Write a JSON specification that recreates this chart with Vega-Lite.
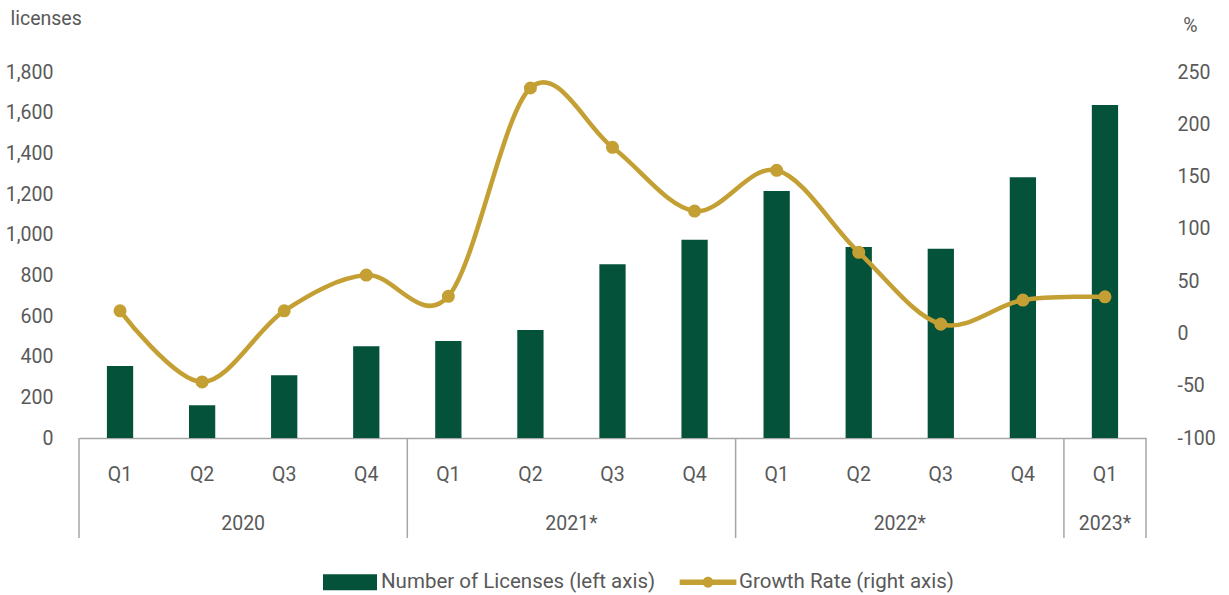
{
  "$schema": "https://vega.github.io/schema/vega-lite/v6.json",
  "width": 1067,
  "height": 366,
  "autosize": {"type": "none"},
  "padding": {"left": 79, "top": 72, "right": 83, "bottom": 157},
  "background": "white",
  "config": {
    "view": {"stroke": null},
    "font": "Roboto",
    "text": {"font": "Roboto"},
    "axis": {"labelFont": "Roboto", "titleFont": "Roboto", "labelColor": "#595959", "titleColor": "#595959", "labelFontSize": 19.5, "titleFontSize": 19.5, "titleFontWeight": "normal", "grid": false},
    "legend": {"labelFont": "Roboto"}
  },
  "data": {
    "values": [
      {"period": "2020 Q1", "year": "2020", "q": "Q1", "licenses": 354, "growth": 21.6},
      {"period": "2020 Q2", "year": "2020", "q": "Q2", "licenses": 161, "growth": -46.4},
      {"period": "2020 Q3", "year": "2020", "q": "Q3", "licenses": 308, "growth": 21.6},
      {"period": "2020 Q4", "year": "2020", "q": "Q4", "licenses": 451, "growth": 55.8},
      {"period": "2021 Q1", "year": "2021*", "q": "Q1", "licenses": 477, "growth": 35.5},
      {"period": "2021 Q2", "year": "2021*", "q": "Q2", "licenses": 531, "growth": 234.7},
      {"period": "2021 Q3", "year": "2021*", "q": "Q3", "licenses": 854, "growth": 178},
      {"period": "2021 Q4", "year": "2021*", "q": "Q4", "licenses": 975, "growth": 117},
      {"period": "2022 Q1", "year": "2022*", "q": "Q1", "licenses": 1215, "growth": 156},
      {"period": "2022 Q2", "year": "2022*", "q": "Q2", "licenses": 939, "growth": 77.6},
      {"period": "2022 Q3", "year": "2022*", "q": "Q3", "licenses": 931, "growth": 8.9},
      {"period": "2022 Q4", "year": "2022*", "q": "Q4", "licenses": 1282, "growth": 31.9},
      {"period": "2023 Q1", "year": "2023*", "q": "Q1", "licenses": 1638, "growth": 35}
    ]
  },
  "resolve": {"scale": {"y": "independent"}},
  "layer": [
    {
      "mark": {"type": "bar", "width": {"band": 0.32}, "color": "#04523A"},
      "encoding": {
        "x": {
          "field": "period", "type": "nominal", "sort": null, "title": null,
          "scale": {"paddingInner": 0, "paddingOuter": 0},
          "axis": {
            "domain": true, "domainColor": "#A6A6A6", "domainWidth": 1.5,
            "ticks": false, "labelAngle": 0, "labelPadding": 36, "labelBaseline": "middle",
            "labelExpr": "split(datum.value, ' ')[1]"
          }
        },
        "y": {
          "field": "licenses", "type": "quantitative",
          "scale": {"domain": [0, 1800], "nice": false},
          "axis": {
            "orient": "left", "values": [0, 200, 400, 600, 800, 1000, 1200, 1400, 1600, 1800],
            "format": ",.0f", "domain": false, "ticks": false, "labelPadding": 26,
            "title": "licenses", "titleAngle": 0, "titleAlign": "left", "titleBaseline": "middle",
            "titleX": -69, "titleY": -54
          }
        },
        "color": {
          "datum": "Number of Licenses (left axis)",
          "scale": {"domain": ["Number of Licenses (left axis)", "Growth Rate (right axis)"], "range": ["#04523A", "#C4A034"]},
          "legend": {
            "title": null, "orient": "none", "direction": "horizontal",
            "legendX": 244, "legendY": 483, "padding": 0,
            "symbolSize": 2916, "labelFontSize": 20.5, "labelColor": "#595959", "labelLimit": 500,
            "labelOffset": 4, "columnPadding": 23,
            "encode": {
              "symbols": {
                "update": {
                  "shape": {"signal": "datum.value === 'Number of Licenses (left axis)' ? 'M-1,-0.3H1V0.3H-1Z' : 'M-1.05,-0.1H1.05V0.1H-1.05Z M0.2,0 A0.2,0.2 0 1,1 -0.2,0 A0.2,0.2 0 1,1 0.2,0Z'"},
                  "fill": {"scale": "color", "field": "value"},
                  "stroke": {"value": "transparent"},
                  "strokeWidth": {"value": 0},
                  "opacity": {"value": 1}
                }
              }
            }
          }
        }
      }
    },
    {
      "transform": [{"filter": "datum.q === 'Q1'"}],
      "mark": {"type": "rule", "color": "#A6A6A6", "strokeWidth": 1.5},
      "encoding": {
        "x": {"field": "period", "type": "nominal", "sort": null, "title": null, "bandPosition": 0},
        "y": {"datum": 0, "type": "quantitative", "scale": {"domain": [0, 1800], "nice": false}, "axis": null},
        "y2": {"datum": -492}
      }
    },
    {
      "transform": [{"filter": "datum.period === '2023 Q1'"}],
      "mark": {"type": "rule", "color": "#A6A6A6", "strokeWidth": 1.5},
      "encoding": {
        "x": {"field": "period", "type": "nominal", "sort": null, "title": null, "bandPosition": 1},
        "y": {"datum": 0, "type": "quantitative", "scale": {"domain": [0, 1800], "nice": false}, "axis": null},
        "y2": {"datum": -492}
      }
    },
    {
      "transform": [{"filter": "datum.q === 'Q3'"}],
      "mark": {"type": "text", "fontSize": 19.5, "color": "#595959", "baseline": "middle", "align": "center"},
      "encoding": {
        "x": {"field": "period", "type": "nominal", "sort": null, "title": null, "bandPosition": 0},
        "y": {"datum": -423, "type": "quantitative", "scale": {"domain": [0, 1800], "nice": false}, "axis": null},
        "text": {"field": "year"}
      }
    },
    {
      "transform": [{"filter": "datum.year === '2023*'"}],
      "mark": {"type": "text", "fontSize": 19.5, "color": "#595959", "baseline": "middle", "align": "center"},
      "encoding": {
        "x": {"field": "period", "type": "nominal", "sort": null, "title": null, "bandPosition": 0.5},
        "y": {"datum": -423, "type": "quantitative", "scale": {"domain": [0, 1800], "nice": false}, "axis": null},
        "text": {"field": "year"}
      }
    },
    {
      "mark": {"type": "line", "interpolate": "cardinal", "strokeWidth": 4.5, "color": "#C4A034",
               "point": {"filled": true, "size": 170, "color": "#C4A034"}},
      "encoding": {
        "x": {"field": "period", "type": "nominal", "sort": null, "title": null},
        "y": {
          "field": "growth", "type": "quantitative",
          "scale": {"domain": [-100, 250], "nice": false, "zero": false},
          "axis": {
            "orient": "right", "values": [-100, -50, 0, 50, 100, 150, 200, 250],
            "domain": false, "ticks": false, "labelPadding": 31,
            "labelExpr": "replace(datum.label, '\u2212', '-')",
            "title": "%", "titleAngle": 0, "titleAlign": "center", "titleBaseline": "middle",
            "titleX": 44, "titleY": -47
          }
        },
        "color": {"datum": "Growth Rate (right axis)"}
      }
    }
  ]
}
